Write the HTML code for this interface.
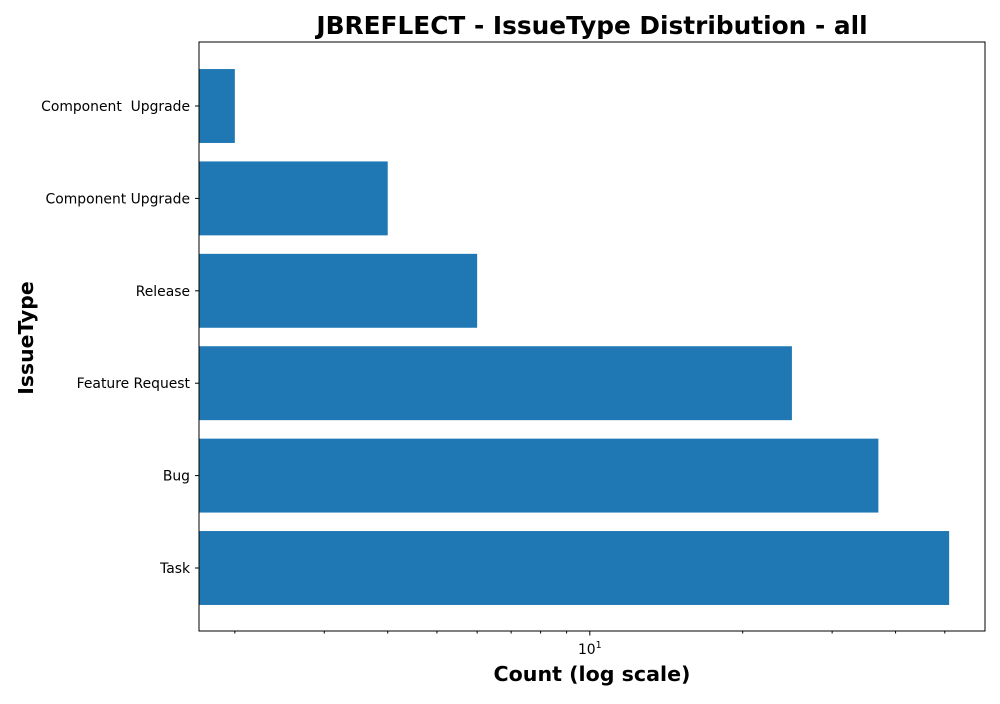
<!DOCTYPE html>
<html><head><meta charset="utf-8"><style>
body{margin:0;background:#fff;font-family:"DejaVu Sans","Liberation Sans",sans-serif;}
svg text{white-space:pre;}
</style></head><body>
<svg id="chart" width="1000" height="700" xmlns="http://www.w3.org/2000/svg" font-family="DejaVu Sans, Liberation Sans, sans-serif">
<rect width="1000" height="700" fill="#fff"/>
<text x="592" y="34" text-anchor="middle" font-size="24.8" font-weight="bold">JBREFLECT - IssueType Distribution - all</text>
<text x="592" y="681" text-anchor="middle" font-size="20.6" font-weight="bold">Count (log scale)</text>
<text transform="translate(33,338) rotate(-90)" text-anchor="middle" font-size="20.4" font-weight="bold">IssueType</text>
<g id="bars"></g>
<g id="axes"></g>
</svg>
<script>
const categories = ["Task","Bug","Feature Request","Release","Component Upgrade","Component  Upgrade"];
const counts = [51,37,25,6,4,2];
const xDomain = [1.70, 60];
const majorTicks = [10];
const minorTicks = [2,3,4,5,6,7,8,9,20,30,40,50];

const L=199,R=985,T=42,B=631;
const NS="http://www.w3.org/2000/svg";
const lx0=Math.log10(xDomain[0]), lx1=Math.log10(xDomain[1]);
function x(v){return L+(Math.log10(v)-lx0)/(lx1-lx0)*(R-L);}
function y(i){return 568-92.4*i;}
const bh=92.4*0.8;
function mk(tag,attrs,parent){const e=document.createElementNS(NS,tag);for(const k in attrs)e.setAttribute(k,attrs[k]);parent.appendChild(e);return e;}
const gb=document.getElementById('bars'), ga=document.getElementById('axes');
counts.forEach((c,i)=>{
  const r=mk('rect',{x:L,y:y(i)-bh/2,width:x(c)-L,height:bh,fill:'#1f77b4'},gb);
  
  
  mk('line',{x1:L,x2:L-4,y1:y(i),y2:y(i),stroke:'#000'},ga);
  const t=mk('text',{x:L-9,y:y(i)+5,'text-anchor':'end','font-size':'13.9'},ga);
  t.setAttribute('xml:space','preserve');
  t.textContent=categories[i];
  
  
});
const frame=mk('rect',{x:L,y:T,width:R-L,height:B-T,fill:'none',stroke:'#000','stroke-width':1},ga);


minorTicks.forEach(v=>{if(v>=xDomain[0]&&v<=xDomain[1])mk('line',{x1:x(v),x2:x(v),y1:B,y2:B+2.5,stroke:'#000'},ga);});
majorTicks.forEach(v=>{
  mk('line',{x1:x(v),x2:x(v),y1:B,y2:B+4.5,stroke:'#000'},ga);
  const t=mk('text',{x:x(v),y:B+23,'text-anchor':'middle','font-size':'13.9'},ga);
  t.innerHTML='10<tspan dy="-6" font-size="9.5">'+Math.log10(v)+'</tspan>';
  
  
});
</script>
</body></html>
